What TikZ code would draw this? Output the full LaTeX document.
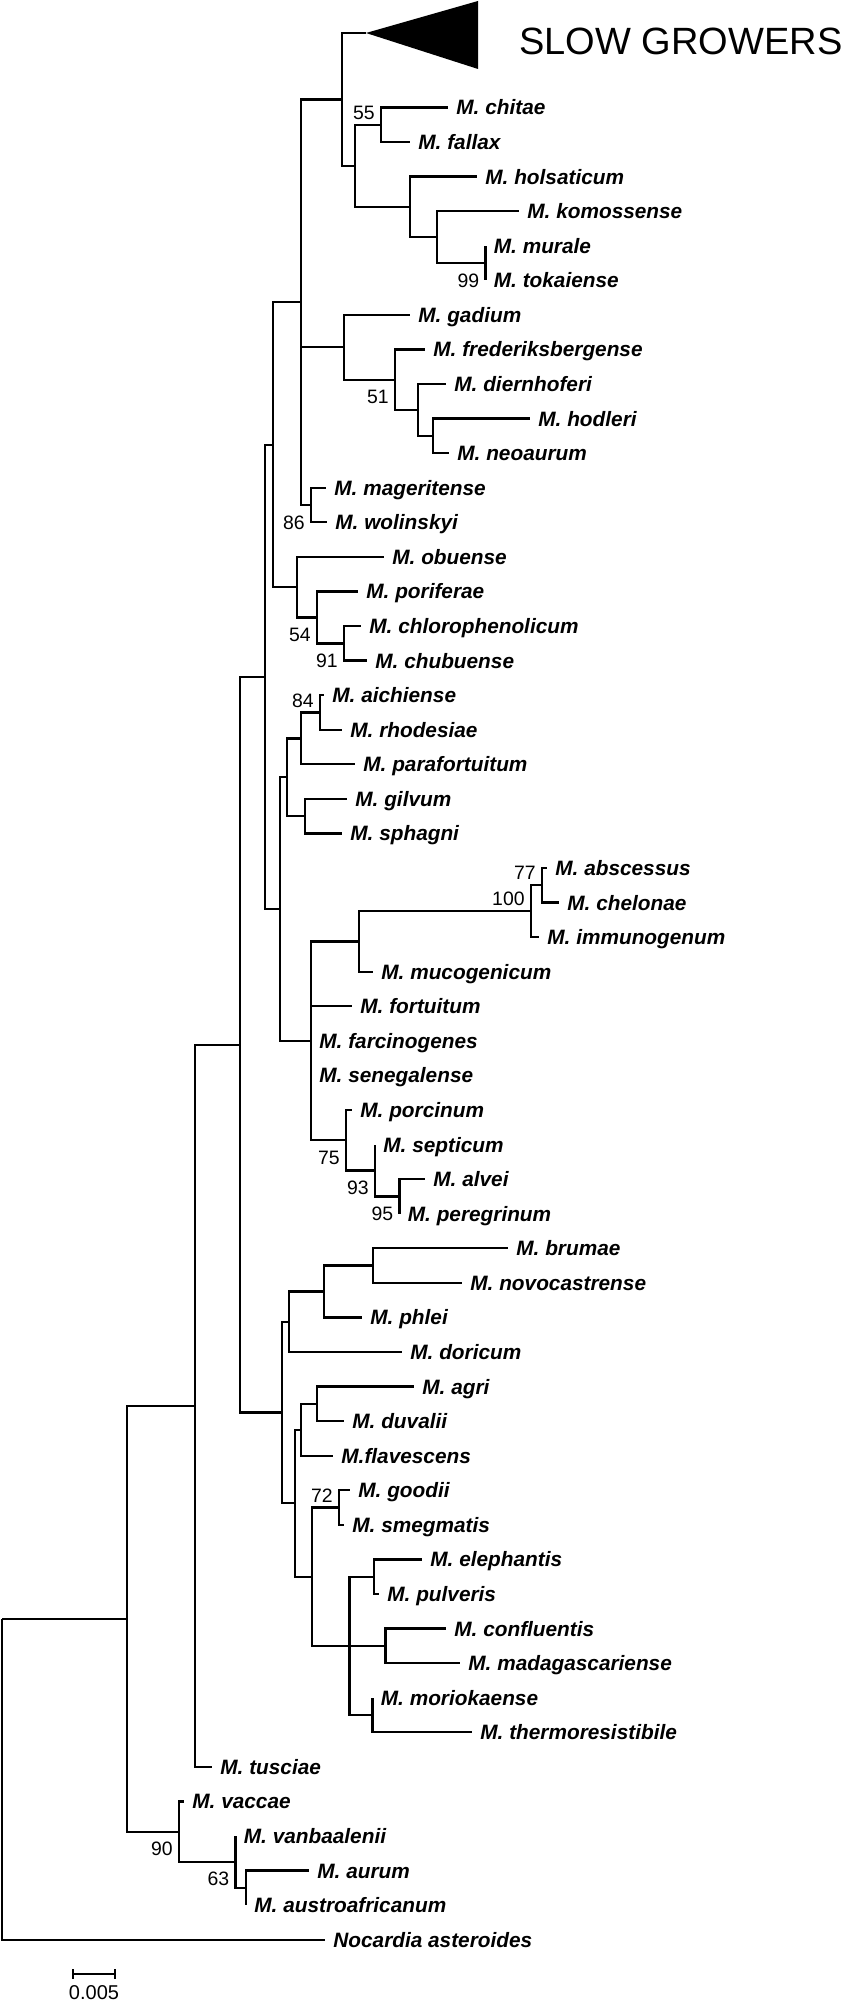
\documentclass[tikz,border=0pt]{standalone}
\usepackage{fontspec}
\setmainfont{Liberation Sans}
\begin{document}
\begin{tikzpicture}[x=0.5pt,y=-0.5pt,
        branche/.style={line width=1.15pt},
        feuille/.style={anchor=west,inner xsep=4pt,inner ysep=0pt,text height=7.45pt,text depth=0pt,font=\fontsize{10.4}{12}\selectfont\bfseries\itshape},
        boot/.style={inner sep=0pt,text height=6.8pt,text depth=0pt,font=\fontsize{9.7}{11}\selectfont},
        bsbas/.style={boot,anchor=north east,xshift=-3pt,yshift=-5pt},
        bshaut/.style={boot,anchor=south east,xshift=-3pt,yshift=2.5pt}]
        \useasboundingbox (0,0) rectangle (843,2000);
        % Groupe replie (croissance lente)
        \coordinate (lentes) at (366,33);
        \fill (lentes) -- (478,1) -- (478,69) -- cycle;
        \node[anchor=base west,inner sep=0pt,font=\fontsize{19}{22}\selectfont] (slow) at (519,55) {SLOW GROWERS};
        % Feuilles
        \node[feuille] (chitae) at (448,107.5) {M. chitae};
        \node[feuille] (fallax) at (410,142.1) {M. fallax};
        \node[feuille] (holsaticum) at (477,176.6) {M. holsaticum};
        \node[feuille] (komossense) at (519,211.2) {M. komossense};
        \node[feuille] (murale) at (485.5,245.8) {M. murale};
        \node[feuille] (tokaiense) at (485.5,280.4) {M. tokaiense};
        \node[feuille] (gadium) at (410,314.9) {M. gadium};
        \node[feuille] (frederiksbergense) at (425,349.5) {M. frederiksbergense};
        \node[feuille] (diernhoferi) at (446,384.1) {M. diernhoferi};
        \node[feuille] (hodleri) at (530,418.6) {M. hodleri};
        \node[feuille] (neoaurum) at (449,453.2) {M. neoaurum};
        \node[feuille] (mageritense) at (326,487.8) {M. mageritense};
        \node[feuille] (wolinskyi) at (327,522.3) {M. wolinskyi};
        \node[feuille] (obuense) at (384,556.9) {M. obuense};
        \node[feuille] (poriferae) at (358,591.5) {M. poriferae};
        \node[feuille] (chlorophenolicum) at (361,626.1) {M. chlorophenolicum};
        \node[feuille] (chubuense) at (367,660.6) {M. chubuense};
        \node[feuille] (aichiense) at (324,695.2) {M. aichiense};
        \node[feuille] (rhodesiae) at (342,729.8) {M. rhodesiae};
        \node[feuille] (parafortuitum) at (355,764.3) {M. parafortuitum};
        \node[feuille] (gilvum) at (347,798.9) {M. gilvum};
        \node[feuille] (sphagni) at (342,833.5) {M. sphagni};
        \node[feuille] (abscessus) at (547,868.0) {M. abscessus};
        \node[feuille] (chelonae) at (559,902.6) {M. chelonae};
        \node[feuille] (immunogenum) at (539,937.2) {M. immunogenum};
        \node[feuille] (mucogenicum) at (373,971.8) {M. mucogenicum};
        \node[feuille] (fortuitum) at (352,1006.3) {M. fortuitum};
        \node[feuille] (farcinogenes) at (311,1040.9) {M. farcinogenes};
        \node[feuille] (senegalense) at (311,1075.5) {M. senegalense};
        \node[feuille] (porcinum) at (352,1110.0) {M. porcinum};
        \node[feuille] (septicum) at (375,1144.6) {M. septicum};
        \node[feuille] (alvei) at (425,1179.2) {M. alvei};
        \node[feuille] (peregrinum) at (399.5,1213.7) {M. peregrinum};
        \node[feuille] (brumae) at (508,1248.3) {M. brumae};
        \node[feuille] (novocastrense) at (462,1282.9) {M. novocastrense};
        \node[feuille] (phlei) at (362,1317.5) {M. phlei};
        \node[feuille] (doricum) at (402,1352.0) {M. doricum};
        \node[feuille] (agri) at (414,1386.6) {M. agri};
        \node[feuille] (duvalii) at (344,1421.2) {M. duvalii};
        \node[feuille] (flavescens) at (333,1455.7) {M.flavescens};
        \node[feuille] (goodii) at (350,1490.3) {M. goodii};
        \node[feuille] (smegmatis) at (344,1524.9) {M. smegmatis};
        \node[feuille] (elephantis) at (422,1559.4) {M. elephantis};
        \node[feuille] (pulveris) at (379,1594.0) {M. pulveris};
        \node[feuille] (confluentis) at (446,1628.6) {M. confluentis};
        \node[feuille] (madagascariense) at (460,1663.2) {M. madagascariense};
        \node[feuille] (moriokaense) at (372.5,1697.7) {M. moriokaense};
        \node[feuille] (thermoresistibile) at (472,1732.3) {M. thermoresistibile};
        \node[feuille] (tusciae) at (212,1766.9) {M. tusciae};
        \node[feuille] (vaccae) at (184,1801.4) {M. vaccae};
        \node[feuille] (vanbaalenii) at (235.5,1836.0) {M. vanbaalenii};
        \node[feuille] (aurum) at (309,1870.6) {M. aurum};
        \node[feuille] (austroafricanum) at (246,1905.1) {M. austroafricanum};
        \node[feuille] (nocardia) at (325,1939.7) {Nocardia asteroides};
        % Noeuds internes
        \coordinate (racine) at (2,1618.75);
        \coordinate (nA) at (127,1618.75);
        \coordinate (nB) at (195,1405.8);
        \coordinate (nC) at (240,1044.7);
        \coordinate (nD) at (265,676.9);
        \coordinate (nF) at (273,444.7);
        \coordinate (nH) at (301,302.2);
        \coordinate (nJ) at (342,99.4);
        \coordinate (nJb) at (355,165.85);
        \coordinate (nJc) at (381,124.8);
        \coordinate (nJd) at (410,206.9);
        \coordinate (nJe) at (437,237.15);
        \coordinate (nJf) at (485.5,263.1);
        \coordinate (nK) at (344,347.3);
        \coordinate (nKa) at (395,379.75);
        \coordinate (nKb) at (418,410);
        \coordinate (nKc) at (433,435.9);
        \coordinate (nL) at (311,505.05);
        \coordinate (nI) at (297,587.15);
        \coordinate (nIa) at (317,617.4);
        \coordinate (nIb) at (344,643.35);
        \coordinate (nG) at (280,909.1);
        \coordinate (nGa) at (287,777.3);
        \coordinate (nGb) at (301,738.4);
        \coordinate (nGc) at (320,712.5);
        \coordinate (nGg) at (305,816.2);
        \coordinate (nGm) at (311,1040.9);
        \coordinate (nGn) at (359,941.5);
        \coordinate (nGo) at (531,911.25);
        \coordinate (nGq) at (542,885.3);
        \coordinate (nGp) at (346,1140.25);
        \coordinate (nGr) at (375,1170.5);
        \coordinate (nGs) at (399.5,1196.45);
        \coordinate (nE) at (282,1412.5);
        \coordinate (nEa) at (289,1321.8);
        \coordinate (nEb) at (324,1291.55);
        \coordinate (nEc) at (373,1265.6);
        \coordinate (nEg) at (295,1503.25);
        \coordinate (nEh) at (301,1429.8);
        \coordinate (nEj) at (317,1403.9);
        \coordinate (nEi) at (312,1576.7);
        \coordinate (nEk) at (339,1507.6);
        \coordinate (nEl) at (349.5,1645.85);
        \coordinate (nEm) at (374,1576.7);
        \coordinate (nEn) at (385.5,1645.9);
        \coordinate (nEo) at (372.5,1715);
        \coordinate (nV) at (179,1831.7);
        \coordinate (nW) at (235.5,1861.9);
        \coordinate (nX) at (246,1887.85);
        % Branches
        \draw[branche] (racine) |- (nA) (racine) |- (nocardia.west);
        \draw[branche] (nA) |- (nB) (nA) |- (nV);
        \draw[branche] (nB) |- (nC) (nB) |- (tusciae.west);
        \draw[branche] (nC) |- (nD) (nC) |- (nE);
        \draw[branche] (nD) |- (nF) (nD) |- (nG);
        \draw[branche] (nF) |- (nH) (nF) |- (nI);
        \draw[branche] (nH) |- (nJ) (nH) |- (nK) (nH) |- (nL);
        \draw[branche] (nJ) |- (lentes) (nJ) |- (nJb);
        \draw[branche] (nJb) |- (nJc) (nJb) |- (nJd);
        \draw[branche] (nJc) |- (chitae.west) (nJc) |- (fallax.west);
        \draw[branche] (nJd) |- (holsaticum.west) (nJd) |- (nJe);
        \draw[branche] (nJe) |- (komossense.west) (nJe) |- (nJf);
        \draw[branche] (nJf) |- (murale.west) (nJf) |- (tokaiense.west);
        \draw[branche] (nK) |- (gadium.west) (nK) |- (nKa);
        \draw[branche] (nKa) |- (frederiksbergense.west) (nKa) |- (nKb);
        \draw[branche] (nKb) |- (diernhoferi.west) (nKb) |- (nKc);
        \draw[branche] (nKc) |- (hodleri.west) (nKc) |- (neoaurum.west);
        \draw[branche] (nL) |- (mageritense.west) (nL) |- (wolinskyi.west);
        \draw[branche] (nI) |- (obuense.west) (nI) |- (nIa);
        \draw[branche] (nIa) |- (poriferae.west) (nIa) |- (nIb);
        \draw[branche] (nIb) |- (chlorophenolicum.west) (nIb) |- (chubuense.west);
        \draw[branche] (nG) |- (nGa) (nG) |- (nGm);
        \draw[branche] (nGa) |- (nGb) (nGa) |- (nGg);
        \draw[branche] (nGb) |- (nGc) (nGb) |- (parafortuitum.west);
        \draw[branche] (nGc) |- (aichiense.west) (nGc) |- (rhodesiae.west);
        \draw[branche] (nGg) |- (gilvum.west) (nGg) |- (sphagni.west);
        \draw[branche] (nGm) |- (nGn) (nGm) |- (fortuitum.west) (nGm) |- (farcinogenes.west) (nGm) |- (senegalense.west) (nGm) |- (nGp);
        \draw[branche] (nGn) |- (nGo) (nGn) |- (mucogenicum.west);
        \draw[branche] (nGo) |- (nGq) (nGo) |- (immunogenum.west);
        \draw[branche] (nGq) |- (abscessus.west) (nGq) |- (chelonae.west);
        \draw[branche] (nGp) |- (porcinum.west) (nGp) |- (nGr);
        \draw[branche] (nGr) |- (septicum.west) (nGr) |- (nGs);
        \draw[branche] (nGs) |- (alvei.west) (nGs) |- (peregrinum.west);
        \draw[branche] (nE) |- (nEa) (nE) |- (nEg);
        \draw[branche] (nEa) |- (nEb) (nEa) |- (doricum.west);
        \draw[branche] (nEb) |- (nEc) (nEb) |- (phlei.west);
        \draw[branche] (nEc) |- (brumae.west) (nEc) |- (novocastrense.west);
        \draw[branche] (nEg) |- (nEh) (nEg) |- (nEi);
        \draw[branche] (nEh) |- (nEj) (nEh) |- (flavescens.west);
        \draw[branche] (nEj) |- (agri.west) (nEj) |- (duvalii.west);
        \draw[branche] (nEi) |- (nEk) (nEi) |- (nEl);
        \draw[branche] (nEk) |- (goodii.west) (nEk) |- (smegmatis.west);
        \draw[branche] (nEl) |- (nEm) (nEl) |- (nEn) (nEl) |- (nEo);
        \draw[branche] (nEm) |- (elephantis.west) (nEm) |- (pulveris.west);
        \draw[branche] (nEn) |- (confluentis.west) (nEn) |- (madagascariense.west);
        \draw[branche] (nEo) |- (moriokaense.west) (nEo) |- (thermoresistibile.west);
        \draw[branche] (nV) |- (vaccae.west) (nV) |- (nW);
        \draw[branche] (nW) |- (vanbaalenii.west) (nW) |- (nX);
        \draw[branche] (nX) |- (aurum.west) (nX) |- (austroafricanum.west);
        % Valeurs de bootstrap
        \node[bshaut] (bs55) at (nJc) {55};
        \node[bsbas] (bs99) at (nJf) {99};
        \node[bsbas] (bs51) at (nKa) {51};
        \node[bsbas] (bs86) at (nL) {86};
        \node[bsbas] (bs54) at (nIa) {54};
        \node[bsbas] (bs91) at (nIb) {91};
        \node[bshaut] (bs84) at (nGc) {84};
        \node[bshaut] (bs77) at (nGq) {77};
        \node[bshaut] (bs100) at (nGo) {100};
        \node[bsbas] (bs75) at (nGp) {75};
        \node[bsbas] (bs93) at (nGr) {93};
        \node[bsbas] (bs95) at (nGs) {95};
        \node[bshaut] (bs72) at (nEk) {72};
        \node[bsbas] (bs90) at (nV) {90};
        \node[bsbas] (bs63) at (nW) {63};
        % Echelle
        \coordinate (ech1) at (73,1974);
        \coordinate (ech2) at (115,1974);
        \draw[line width=0.9pt] (ech1) -- (ech2) ([yshift=2.5pt]ech1) -- ([yshift=-2.5pt]ech1) ([yshift=2.5pt]ech2) -- ([yshift=-2.5pt]ech2);
        \node[anchor=base,inner sep=0pt,font=\fontsize{10}{12}\selectfont] (echelle) at (94,1999) {0.005};
\end{tikzpicture}
\end{document}
